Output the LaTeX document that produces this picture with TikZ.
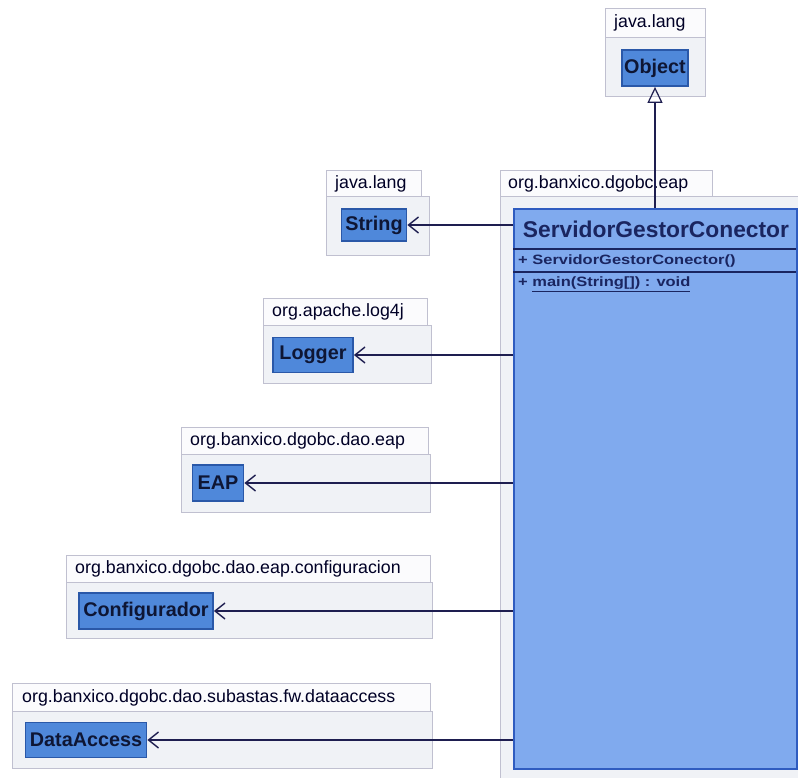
\documentclass[tikz,border=0pt]{standalone}
\usepackage{fontspec}
\setmainfont{Liberation Sans}
\newfontfamily\memberfont{Liberation Sans}[FakeStretch=1.22]
\usetikzlibrary{arrows.meta}

\definecolor{pkgborder}{HTML}{C0C0D0}
\definecolor{pkgtabfill}{HTML}{FBFBFD}
\definecolor{pkgbodyfill}{HTML}{F0F2F6}
\definecolor{clsfill}{HTML}{4F88DA}
\definecolor{clsborder}{HTML}{2A58A8}
\definecolor{mainfill}{HTML}{80AAEE}
\definecolor{mainborder}{HTML}{2F5CC0}
\definecolor{clstext}{HTML}{0E1634}
\definecolor{titletext}{HTML}{1A2560}
\definecolor{linkcol}{HTML}{1E1E50}

\tikzset{
  pkgtab/.style={draw=pkgborder, fill=pkgtabfill, line width=1pt, anchor=north west, inner sep=0pt},
  pkgbody/.style={draw=pkgborder, fill=pkgbodyfill, line width=1pt, anchor=north west, inner sep=0pt},
  pkglabel/.style={anchor=west, font=\fontsize{17.8}{19}\selectfont, text=black!85!blue, inner sep=0pt},
  cls/.style={draw=clsborder, fill=clsfill, line width=1.8pt, inner sep=0pt,
    font=\bfseries\fontsize{19.8}{21}\selectfont, text=clstext},
  mainbox/.style={draw=mainborder, fill=mainfill, line width=1.6pt, anchor=north west, inner sep=0pt},
  member/.style={anchor=west, inner sep=0pt, text=titletext, font=\memberfont\bfseries\fontsize{13.5}{15}\selectfont},
  dep/.style={draw=linkcol, line width=1.4pt, -{Straight Barb[length=10pt,width=16pt,line width=1.4pt]}},
  gen/.style={draw=linkcol, line width=1.2pt, -{Triangle[open,length=16pt,width=15pt,line width=1.2pt]}},
}

\begin{document}
\begin{tikzpicture}[x=1pt,y=-1pt]
\useasboundingbox (0,0) rectangle (798,777);
\clip (0,0) rectangle (798,777);
\fill[white] (0,0) rectangle (798,777);

% package java.lang (Object)
\node[pkgbody, minimum width=100, minimum height=59] (objpkg) at (605,37) {};
\node[pkgtab, minimum width=100, minimum height=29] (objtab) at (605,8) {};
\node[pkglabel] (objlbl) at ([xshift=9]objtab.west) {java.lang};
\node[cls, minimum width=66, minimum height=36] (object) at (655,68) {Object};

% package org.banxico.dgobc.eap
\node[pkgbody, minimum width=320, minimum height=600] (mainpkg) at (500,196) {};
\node[pkgtab, minimum width=212, minimum height=26] (maintab) at (500,170) {};
\node[pkglabel] (mainlbl) at ([xshift=8]maintab.west) {org.banxico.dgobc.eap};

% class ServidorGestorConector
\node[mainbox, minimum width=283, minimum height=560] (main) at (513,208) {};
\node[inner sep=0pt, text=titletext, font=\bfseries\fontsize{22.8}{24}\selectfont] (title)
  at (656,229) {ServidorGestorConector};
\draw[draw=titletext, line width=1.3pt] (513,249) -- (796,249);
\draw[draw=titletext, line width=1.3pt] (513,272) -- (796,272);
\node[member] (ctor) at (518,261) {+ ServidorGestorConector()};
\node[member] (mainop) at (518,284) {+ \underline{main(String[]) : void}};

% package java.lang (String)
\node[pkgbody, minimum width=103, minimum height=59] (strpkg) at (326,196) {};
\node[pkgtab, minimum width=95, minimum height=26] (strtab) at (326,170) {};
\node[pkglabel] (strlbl) at ([xshift=9]strtab.west) {java.lang};
\node[cls, minimum width=65, minimum height=32] (string) at (374,225) {String};

% package org.apache.log4j
\node[pkgbody, minimum width=168, minimum height=58] (logpkg) at (263,325) {};
\node[pkgtab, minimum width=164, minimum height=27] (logtab) at (263,298) {};
\node[pkglabel] (loglbl) at ([xshift=9]logtab.west) {org.apache.log4j};
\node[cls, minimum width=80, minimum height=35] (logger) at (313,355) {Logger};

% package org.banxico.dgobc.dao.eap
\node[pkgbody, minimum width=249, minimum height=58] (eappkg) at (181,454) {};
\node[pkgtab, minimum width=247, minimum height=27] (eaptab) at (181,427) {};
\node[pkglabel] (eaplbl) at ([xshift=9]eaptab.west) {org.banxico.dgobc.dao.eap};
\node[cls, minimum width=51, minimum height=36] (eap) at (218,483) {EAP};

% package org.banxico.dgobc.dao.eap.configuracion
\node[pkgbody, minimum width=366, minimum height=56] (cfgpkg) at (66,582) {};
\node[pkgtab, minimum width=364, minimum height=27] (cfgtab) at (66,555) {};
\node[pkglabel] (cfglbl) at ([xshift=9]cfgtab.west) {org.banxico.dgobc.dao.eap.configuracion};
\node[cls, minimum width=134, minimum height=36] (config) at (146,611) {Configurador};

% package org.banxico.dgobc.dao.subastas.fw.dataaccess
\node[pkgbody, minimum width=420, minimum height=57] (dapkg) at (12,711) {};
\node[pkgtab, minimum width=418, minimum height=28] (datab) at (12,683) {};
\node[pkglabel] (dalbl) at ([xshift=10]datab.west) {org.banxico.dgobc.dao.subastas.fw.dataaccess};
\node[cls, minimum width=121, minimum height=35] (dataacc) at (86,740) {DataAccess};

% generalisation and dependencies
\draw[gen] (main.north -| object.south) -- (object.south);
\draw[dep] (main.west |- string.east) -- (string.east);
\draw[dep] (main.west |- logger.east) -- (logger.east);
\draw[dep] (main.west |- eap.east) -- (eap.east);
\draw[dep] (main.west |- config.east) -- (config.east);
\draw[dep] (main.west |- dataacc.east) -- (dataacc.east);
\end{tikzpicture}
\end{document}
